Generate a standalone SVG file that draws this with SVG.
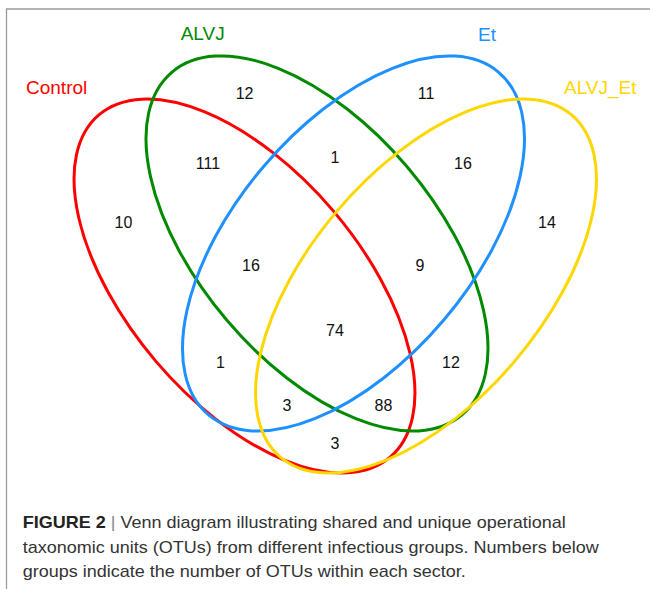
<svg xmlns="http://www.w3.org/2000/svg" width="650" height="589" viewBox="0 0 650 589">
<style>
.set{fill:none;stroke-width:3}
.num{font-family:"Liberation Sans",Arial,sans-serif;font-size:16px;fill:#111;text-anchor:middle}
.lab{font-family:"Liberation Sans",Arial,sans-serif;font-size:19px}
.cap{font-family:"Liberation Sans",Arial,sans-serif;font-size:17px;fill:#333}
</style>
<rect width="650" height="589" fill="#fff"/>
<path d="M6.5 589 V9 H650" fill="none" stroke="#9a9a9a" stroke-width="1.3"/>
<g id="sets">
<g id="control"><ellipse class="set" stroke="#ff0000" cx="244.5" cy="286" rx="224.7" ry="116.3" transform="rotate(49.6 244.5 286)"/></g>
<g id="alvj"><ellipse class="set" stroke="#008a00" cx="317" cy="243.5" rx="224.5" ry="118.4" transform="rotate(49.7 317 243.5)"/></g>
<g id="et"><ellipse class="set" stroke="#1e90ff" cx="353.5" cy="243.5" rx="224.5" ry="118.4" transform="rotate(-49.7 353.5 243.5)"/></g>
<g id="alvj_et"><ellipse class="set" stroke="#ffd700" cx="426" cy="286" rx="224.7" ry="116.3" transform="rotate(-49.6 426 286)"/></g>
</g>
<g id="labels">
<text class="lab" x="26" y="94" fill="#ff0000">Control</text>
<text class="lab" x="180.7" y="40" fill="#008a00">ALVJ</text>
<text class="lab" x="478" y="40.5" fill="#1e90ff">Et</text>
<text class="lab" x="564" y="93.5" fill="#ffd700">ALVJ_Et</text>
</g>
<g id="counts">
<text class="num" x="244.6" y="98.8">12</text>
<text class="num" x="426" y="98.8">11</text>
<text class="num" x="208" y="168.8">111</text>
<text class="num" x="335" y="163.3">1</text>
<text class="num" x="463" y="168.8">16</text>
<text class="num" x="123.5" y="227.8">10</text>
<text class="num" x="547" y="227.8">14</text>
<text class="num" x="251" y="270.8">16</text>
<text class="num" x="420" y="270.8">9</text>
<text class="num" x="335" y="335.8">74</text>
<text class="num" x="220.5" y="367.6">1</text>
<text class="num" x="451" y="367.6">12</text>
<text class="num" x="287" y="410.8">3</text>
<text class="num" x="383.5" y="410.8">88</text>
<text class="num" x="335" y="448.5">3</text>
</g>
<g id="caption">
<text class="cap" x="22.7" y="528.3" textLength="543" lengthAdjust="spacingAndGlyphs"><tspan font-weight="bold" fill="#222">FIGURE 2</tspan> <tspan fill="#888">|</tspan> Venn diagram illustrating shared and unique operational</text>
<text class="cap" x="22.7" y="552.7" textLength="576" lengthAdjust="spacingAndGlyphs">taxonomic units (OTUs) from different infectious groups. Numbers below</text>
<text class="cap" x="22.7" y="576.7" textLength="443" lengthAdjust="spacingAndGlyphs">groups indicate the number of OTUs within each sector.</text>
</g>
</svg>
